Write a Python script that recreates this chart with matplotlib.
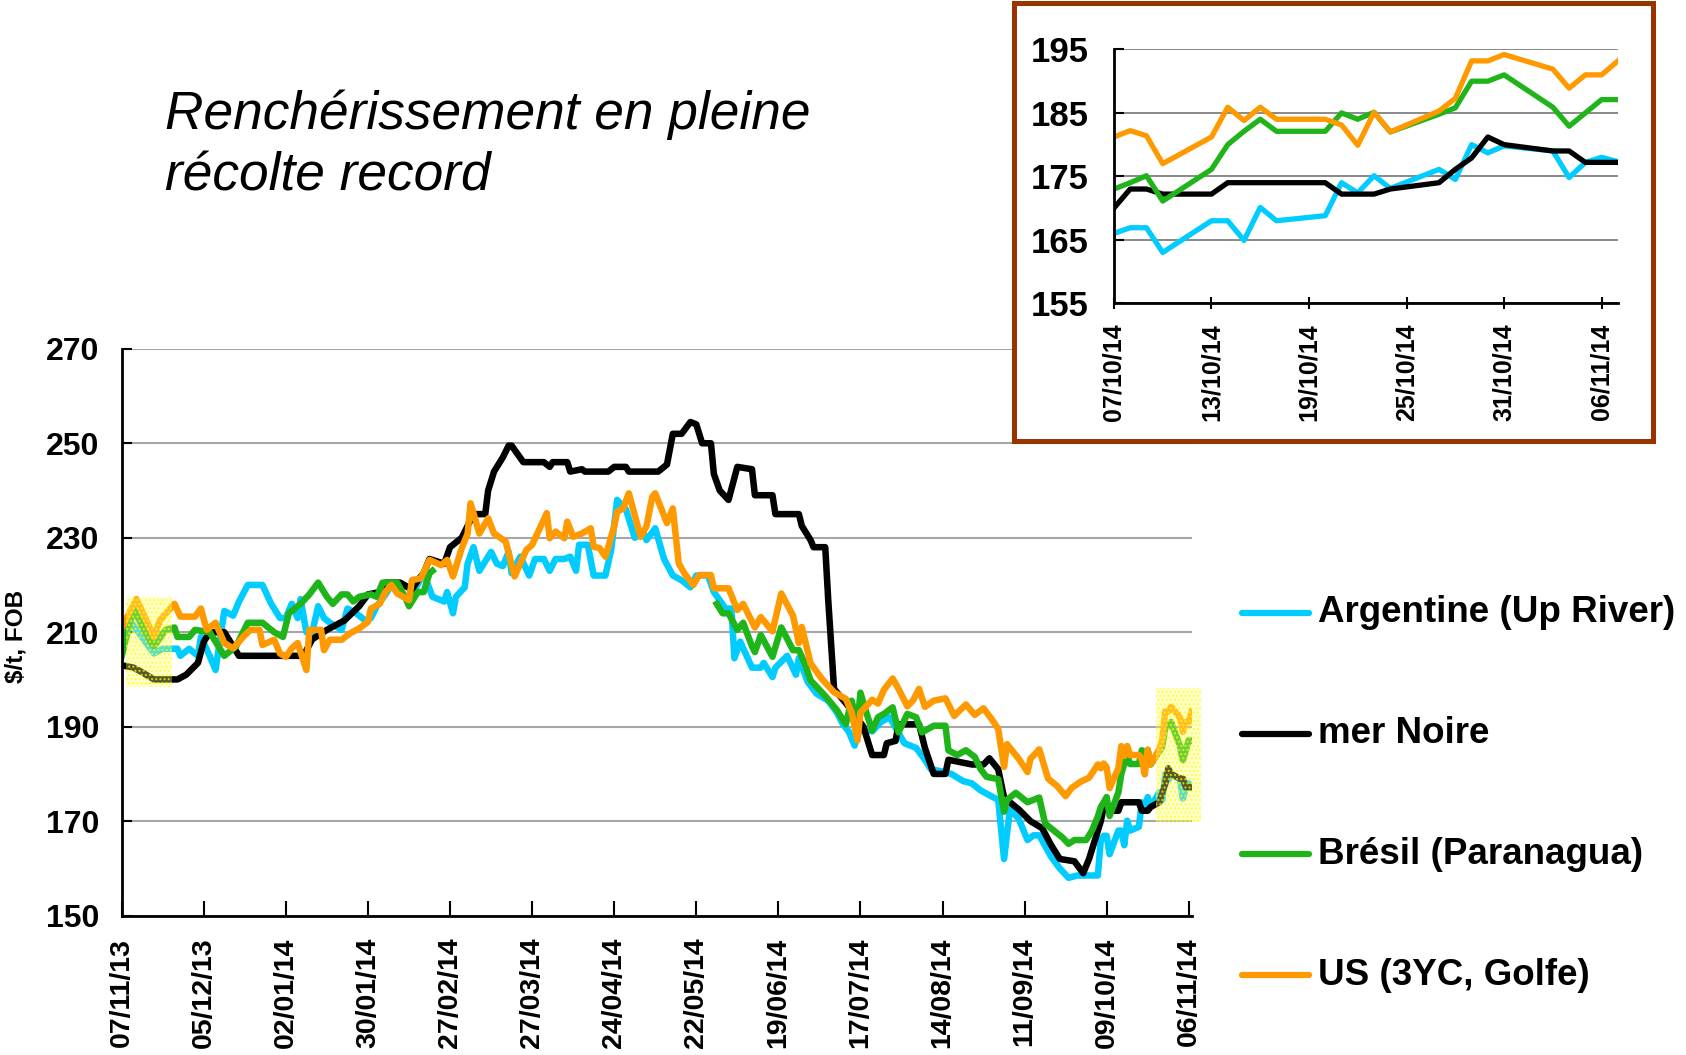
"""
plot.py

Prix du maïs à l'export ($/t, FOB) - graphique principal et zoom sur le dernier mois.
"""

#####################################
# Import Modules
#####################################
import datetime as dt
import numpy as np
import matplotlib
matplotlib.use("Agg")
import matplotlib.pyplot as plt
import matplotlib.dates as mdates
from matplotlib.lines import Line2D
from matplotlib.patches import Rectangle

plt.rcParams["font.family"] = ["Liberation Sans", "DejaVu Sans"]
plt.rcParams["hatch.linewidth"] = 1.0

#####################################
# Data
#####################################

START = dt.date(2013, 11, 7)

# main chart, days after 07/11/13 and values up to 06/10/14
arg_day = [0, 4, 8, 11, 14, 19, 20, 23, 26, 27, 30, 32, 35, 38, 40, 43, 48, 51, 54, 56,
           58, 60, 61, 63, 65, 67, 69, 71, 75, 77, 80, 83, 85, 87, 90, 92, 95, 98, 100, 103,
           106, 110, 111, 113, 114, 117, 118, 120, 122, 126, 128, 130, 132, 133, 136, 139, 141, 144, 146, 148,
           151, 153, 155, 156, 159, 161, 165, 167, 169, 172, 175, 178, 179, 182, 185, 188, 191, 194, 196, 200,
           202, 206, 208, 209, 211, 215, 218, 219, 222, 223, 227, 230, 231, 234, 237, 241, 244, 246, 248, 250,
           252, 256, 259, 262, 267, 271, 274, 276, 280, 283, 287, 290, 293, 299, 301, 303, 306, 309, 311, 313,
           317, 320, 323, 326, 329, 333]
arg_val = [209.5, 211.5, 208, 205.5, 206.5, 206.5, 205, 206.5, 205, 209, 205, 202, 214.5, 213.5, 216.5, 220, 220, 216, 213, 213,
           216, 213, 217, 210, 210, 215.5, 213, 212, 210.5, 215, 214, 212.5, 213, 215.5, 218, 220, 220, 219.5, 219, 222.5,
           217.5, 216.5, 218.5, 214, 217.5, 219.5, 224.5, 228, 223, 227, 224.5, 224, 227, 222.5, 226, 222, 225.5, 225.5, 223, 225.5,
           225.5, 226, 223, 228.5, 228.5, 222, 222, 227.5, 238, 236, 230, 231, 229.5, 232, 225.5, 222, 221, 219.5, 222, 222,
           218.5, 215, 215, 204.5, 208, 202.5, 202.5, 203.5, 200.5, 202.5, 205, 201, 204.5, 199.5, 197, 195.5, 193, 190.5, 189, 186,
           190, 189, 191, 192, 186.5, 185.5, 183, 181, 180.5, 180, 178.5, 178, 176.5, 174.5, 162, 172.5, 170.5, 166, 167, 167,
           162.5, 160, 158, 158.5, 158.5, 158.5]

nm_day = [0, 4, 7, 11, 19, 22, 26, 28, 30, 35, 38, 40, 62, 65, 70, 76, 81, 84, 88, 90,
          95, 99, 101, 103, 105, 110, 112, 116, 118, 120, 124, 125, 127, 130, 132, 133, 137, 144, 146, 147,
          152, 153, 157, 158, 166, 168, 172, 173, 183, 186, 188, 191, 194, 196, 198, 201, 202, 204, 207, 210,
          215, 216, 222, 223, 231, 232, 235, 236, 240, 241, 243, 247, 249, 253, 256, 260, 261, 264, 265, 272,
          274, 277, 281, 282, 290, 294, 296, 299, 301, 306, 310, 314, 317, 320, 325, 328, 330, 332, 333]
nm_val = [203, 202.5, 201.5, 200, 200, 201, 203.5, 208, 210, 210, 207, 205, 205, 208.5, 210.5, 212.5, 215.5, 218, 218.5, 220.5,
          220.5, 219, 221, 222.5, 225.5, 224.5, 228, 230, 232.5, 235, 235, 240, 244, 247, 249.5, 249.5, 246, 246, 245, 246,
          246, 244, 244.5, 244, 244, 245, 245, 244, 244, 245.5, 252, 252, 254.5, 254, 250, 250, 243.5, 240, 238, 245,
          244.5, 239, 239, 235, 235, 232.5, 229.5, 228, 228, 217, 198, 195, 193.5, 190, 184, 184, 186.5, 187, 190.5, 190.5,
          185.5, 180, 180, 183, 182, 182, 183.3, 181, 175, 172.5, 170, 168.5, 165, 162, 161.5, 159, 162, 166, 168]

# no Brazilian quotes between March and mid-June (nan breaks the line)
br_day = [0, 4, 8, 11, 15, 18, 19, 23, 25, 30, 35, 39, 43, 48, 52, 55, 57, 61, 64, 67,
          70, 72, 75, 77, 79, 81, 85, 87, 89, 94, 97, 98, 101, 103, 105, 106, 150, 203, 205, 207,
          210, 212, 215, 216, 218, 222, 225, 229, 231, 233, 235, 240, 244, 247, 249, 251, 252, 254, 256, 258,
          260, 263, 265, 268, 271, 273, 277, 281, 282, 285, 288, 291, 293, 295, 299, 301, 302, 305, 309, 313,
          315, 318, 321, 323, 325, 329, 331, 333]
br_val = [205, 215, 210, 207, 210.5, 211, 209, 209, 210.5, 210, 205, 207, 212, 212, 210, 209, 214, 216, 218, 220.5,
          217.5, 216, 218, 218, 216.5, 217.5, 218, 217.5, 220.5, 220.5, 217, 215.5, 218.5, 218.5, 222.5, 223, np.nan, 216, 214, 214,
          210.5, 212, 207, 205.8, 209.4, 204.8, 211, 206.2, 206.2, 203.4, 199.8, 196.5, 193.5, 190.5, 195.5, 190.3, 197.2, 193, 189.2, 192,
          192.7, 194.1, 188.8, 192.7, 192, 188.8, 190.2, 190.2, 185, 184, 185, 183.6, 181, 179.4, 178.9, 172, 174.5, 176, 174, 175,
          169.5, 168, 166.5, 165.2, 166, 166, 168, 171]

us_day = [0, 5, 11, 13, 18, 20, 25, 27, 29, 32, 35, 38, 42, 44, 47, 48, 52, 54, 56, 58,
          60, 63, 64, 68, 69, 71, 75, 78, 81, 84, 85, 88, 90, 92, 94, 96, 98, 99, 102, 105,
          109, 111, 113, 116, 118, 119, 122, 125, 127, 131, 134, 138, 140, 145, 146, 148, 151, 152, 154, 157,
          160, 161, 163, 165, 168, 169, 171, 173, 177, 179, 181, 182, 186, 188, 190, 192, 195, 197, 201, 202,
          207, 210, 212, 216, 218, 222, 225, 229, 231, 232, 235, 239, 243, 247, 249, 251, 252, 256, 258, 260,
          263, 265, 268, 270, 272, 274, 277, 281, 284, 288, 291, 294, 297, 299, 301, 302, 306, 309, 310, 313,
          316, 319, 322, 324, 327, 330, 333]
us_val = [211, 217, 209, 212.5, 216, 213.3, 213.3, 215, 210.5, 212, 207.7, 206.6, 209.4, 210.5, 210.5, 207.3, 208.4, 205.5, 204.8, 206.6,
          207.7, 202, 210.5, 210.5, 206.2, 208.4, 208.4, 209.8, 210.8, 212.2, 215, 216, 218.6, 220, 218.2, 217.5, 216.8, 221, 221.4, 225.3,
          224.2, 225.3, 221.8, 227.8, 230.9, 237.3, 230.9, 234.1, 230.9, 229.2, 221.8, 227.4, 228.5, 235.2, 229.9, 231.3, 229.9, 233.4, 230.2, 230.9,
          232, 228.1, 227.8, 226, 232.4, 235.5, 236.2, 239.4, 230.2, 232.4, 238.7, 239.4, 233.1, 236.2, 224.6, 222.4, 220, 222.1, 222.1, 219.3,
          219.3, 214.7, 216, 211, 213.2, 210.2, 218.2, 213.5, 207.7, 211.1, 203.4, 200, 197.3, 195.9, 193, 187.1, 193, 195.7, 194.9, 197.8,
          200.2, 198, 194.3, 195.6, 198, 194.2, 195.5, 196, 192.3, 194.7, 192.5, 193.9, 191.4, 189.5, 181.5, 186.3, 183.2, 180.4, 183.2, 185.2,
          179, 177.5, 175.3, 177, 178.3, 179.2, 182]

# last month, one value per trading day (inset, also ends the main chart)
inset_dates = ["07/10/14", "08/10/14", "09/10/14", "10/10/14", "13/10/14", "14/10/14", "15/10/14", "16/10/14",
               "17/10/14", "20/10/14", "21/10/14", "22/10/14", "23/10/14", "24/10/14", "27/10/14", "28/10/14",
               "29/10/14", "30/10/14", "31/10/14", "03/11/14", "04/11/14", "05/11/14", "06/11/14", "07/11/14"]
inset_arg = [166.0, 166.9, 166.9, 163.0, 168.0, 168.0, 164.9, 170.1, 168.0, 168.8, 174.0, 172.4,
             175.1, 173.1, 176.1, 174.5, 180.0, 178.7, 179.8, 179.0, 174.8, 177.2, 178.0, 177.3]
inset_nm = [170.0, 173.0, 173.0, 172.2, 172.2, 174.0, 174.0, 174.0, 174.0, 174.0, 172.2, 172.2,
            172.2, 173.0, 174.0, 176.1, 177.9, 181.2, 180.0, 179.0, 179.0, 177.2, 177.2, 177.2]
inset_br = [173.0, 174.0, 175.1, 171.1, 176.1, 180.0, 182.1, 184.0, 182.1, 182.1, 185.0, 184.0,
            185.1, 182.0, 184.8, 185.8, 190.0, 190.0, 191.0, 185.9, 182.9, 185.0, 187.1, 187.1]
inset_us = [181.2, 182.2, 181.4, 177.0, 181.2, 185.9, 183.8, 185.9, 184.0, 184.0, 183.1, 179.9,
            185.1, 182.0, 185.3, 187.3, 193.2, 193.2, 194.2, 191.9, 188.9, 191.0, 191.0, 193.2]

main_ticks = ["07/11/13", "05/12/13", "02/01/14", "30/01/14", "27/02/14", "27/03/14", "24/04/14",
              "22/05/14", "19/06/14", "17/07/14", "14/08/14", "11/09/14", "09/10/14", "06/11/14"]
inset_ticks = ["07/10/14", "13/10/14", "19/10/14", "25/10/14", "31/10/14", "06/11/14"]

labels = ["Argentine (Up River)", "mer Noire", "Brésil (Paranagua)", "US (3YC, Golfe)"]
colors = ["#00CCFF", "#000000", "#1FB51A", "#FF9900"]

#####################################
# Helpers
#####################################

def parse(s):
    return dt.datetime.strptime(s, "%d/%m/%y")

def from_days(days):
    return [dt.datetime.combine(START, dt.time()) + dt.timedelta(days=int(d)) for d in days]

inset_x = [parse(s) for s in inset_dates]
series_main = [
    (from_days(arg_day) + inset_x, arg_val + inset_arg),
    (from_days(nm_day) + inset_x, nm_val + inset_nm),
    (from_days(br_day) + inset_x, br_val + inset_br),
    (from_days(us_day) + inset_x, us_val + inset_us),
]
series_inset = [inset_arg, inset_nm, inset_br, inset_us]

#####################################
# Figure
#####################################

fig = plt.figure(figsize=(16.86, 10.55), dpi=100)

# main chart
ax = fig.add_axes([0.0722, 0.1321, 0.6346, 0.5373])
for (x, y), c in zip(series_main, colors):
    ax.plot(x, y, color=c, lw=4.7, solid_joinstyle="round")

x0 = mdates.date2num(dt.datetime(2013, 11, 7))
ax.set_xlim(x0, x0 + 365)
ax.set_ylim(150, 270)
ax.set_yticks(range(150, 271, 20))
ax.set_xticks([parse(s) for s in main_ticks])
ax.set_xticklabels(main_ticks, rotation=90, fontsize=20.5, fontweight="bold")
for t in ax.get_yticklabels():
    t.set_fontsize(23)
    t.set_fontweight("bold")
ax.tick_params(axis="x", direction="in", length=11, width=1.5, pad=16)
ax.tick_params(axis="y", direction="in", length=7, width=1.5, pad=16)
ax.grid(True, axis="y", color="#a6a6a6", lw=1.5)
ax.set_axisbelow(True)
for s in ["top", "right"]:
    ax.spines[s].set_visible(False)
for s in ["left", "bottom"]:
    ax.spines[s].set_linewidth(2)

# yellow highlights on the start and the last month
hl = dict(facecolor=(1, 1, 0.45, 0.35), edgecolor=(1, 1, 0, 0.7), hatch="....",
          lw=0, clip_on=False, zorder=5)
ax.add_patch(Rectangle((x0 + 1.5, 198.5), 15.5, 19, **hl))
ax.add_patch(Rectangle((x0 + 352.7, 169.9), 15.4, 28.2, **hl))

fig.text(0.0095, 0.3966, r"\$/t, FOB", rotation=90, ha="center", va="center",
         fontsize=17.5, fontweight="bold")

# title
fig.text(0.0976, 0.8777, "Renchérissement en pleine", fontsize=38.3, style="italic", va="baseline")
fig.text(0.0976, 0.8199, "récolte record", fontsize=38.3, style="italic", va="baseline")

# legend
for i, (lab, c) in enumerate(zip(labels, colors)):
    yy = 1 - (613 + 120.7 * i) / 1055
    fig.add_artist(Line2D([0.7367, 0.7764], [yy, yy], color=c, lw=4.5,
                          solid_capstyle="round", transform=fig.transFigure))
    fig.text(0.7818, yy, lab, fontsize=26.5, fontweight="bold", va="center")

# inset frame
fig.add_artist(Rectangle((0.6014, 0.582), 0.379, 0.415, transform=fig.transFigure,
                         facecolor="white", edgecolor="#993300", lw=3.6, zorder=1))

# inset chart
axi = fig.add_axes([0.6607, 0.7126, 0.2989, 0.2405], zorder=2)
for y, c in zip(series_inset, colors):
    axi.plot(inset_x, y, color=c, lw=3.8, solid_joinstyle="round")
xi0 = mdates.date2num(parse("07/10/14"))
axi.set_xlim(xi0, xi0 + 31)
axi.set_ylim(155, 195)
axi.set_yticks(range(155, 196, 10))
axi.set_xticks([parse(s) for s in inset_ticks])
axi.set_xticklabels(inset_ticks, rotation=90, fontsize=18, fontweight="bold")
for t in axi.get_yticklabels():
    t.set_fontsize(25)
    t.set_fontweight("bold")
    t.set_family(["Liberation Sans Narrow", "Liberation Sans"])
axi.tick_params(axis="x", direction="inout", length=9, width=1.5, pad=10)
axi.tick_params(axis="y", direction="in", length=7, width=1.5, pad=18)
axi.grid(True, axis="y", color="#808080", lw=1.3)
axi.set_axisbelow(True)
for s in ["top", "right"]:
    axi.spines[s].set_visible(False)
for s in ["left", "bottom"]:
    axi.spines[s].set_linewidth(2)

fig.savefig("out.png", dpi=100)
